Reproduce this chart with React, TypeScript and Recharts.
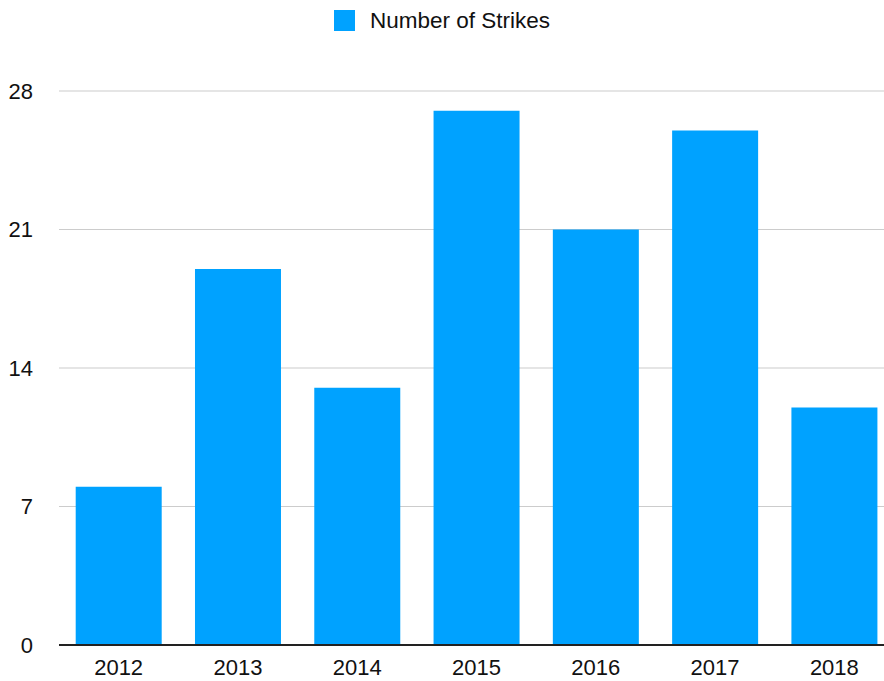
import { BarChart, Bar, XAxis, YAxis, CartesianGrid, Legend } from "recharts";

const years = ["2012", "2013", "2014", "2015", "2016", "2017", "2018"];
const strikes = [8, 19, 13, 27, 21, 26, 12];
const yTicks = [0, 7, 14, 21, 28];

const chartData = years.map((year, i) => ({ year, strikes: strikes[i] }));

const BLUE = "#00A2FF";
const FONT = "'Liberation Sans', Arial, Helvetica, sans-serif";

/*
Custom legend: a blue square followed by the series name, centred on top
*/
function StrikesLegend() {
    return (
        <div style={{ display: "flex", justifyContent: "center", alignItems: "center", paddingTop: 10 }}>
            <span style={{ width: 21, height: 21, background: BLUE, display: "inline-block" }} />
            <span style={{ marginLeft: 15, fontSize: 22.5, color: "#111", fontFamily: FONT, lineHeight: "21px" }}>
                Number of Strikes
            </span>
        </div>
    );
}

function App() {
    return (
        <div style={{ position: "absolute", top: 0, left: 0, width: 884, height: 681, overflow: "hidden", background: "#fff" }}>
            <BarChart width={894} height={681} data={chartData}
                margin={{ top: 91, right: 0, bottom: 0, left: 0 }}
                barCategoryGap="14%">

                <CartesianGrid vertical={false} stroke="#cccccc" strokeWidth={1.2} />

                <XAxis dataKey="year"
                    height={36}
                    tickLine={false}
                    tickSize={0}
                    tickMargin={14}
                    axisLine={{ stroke: "#222", strokeWidth: 2 }}
                    tick={{ fontSize: 22, fill: "#111", fontFamily: FONT }} />

                <YAxis width={59}
                    domain={[0, 28]}
                    ticks={yTicks}
                    interval={0}
                    axisLine={false}
                    tickLine={false}
                    tickSize={0}
                    tickMargin={26}
                    tick={{ fontSize: 22, fill: "#111", fontFamily: FONT }} />

                <Legend verticalAlign="middle"
                    content={() => <StrikesLegend />}
                    wrapperStyle={{ top: 0, left: 0, width: 884 }} />

                <Bar dataKey="strikes"
                    name="Number of Strikes"
                    fill={BLUE}
                    isAnimationActive={false} />
            </BarChart>
        </div>
    );
}

export default App;
